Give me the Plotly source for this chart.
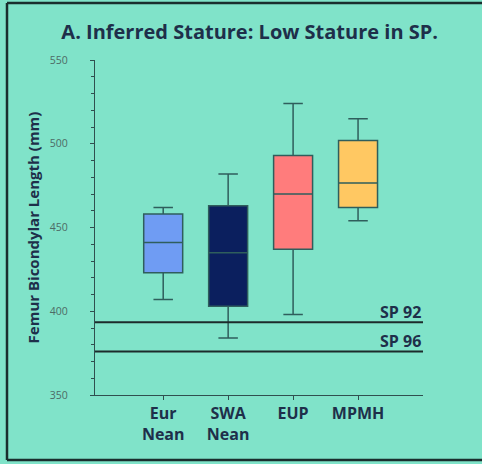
import plotly.graph_objects as go

categories = ["Eur<br>Nean", "SWA<br>Nean", "EUP", "MPMH"]
lower = [407, 384, 398, 454]
q1 = [423, 403, 437, 462]
median = [441, 435, 470, 476.5]
q3 = [458, 463, 493, 502]
upper = [462, 482, 524, 515]
colors = ["#6f9cf3", "#0b1f5e", "#ff7c7c", "#ffc862"]

ref_labels = ["SP 92", "SP 96"]
ref_values = [393.5, 376]

BG = "#80e3c9"
DARK = "#1e2f4a"

fig = go.Figure()
for i, c in enumerate(categories):
    fig.add_trace(go.Box(
        x=[c], q1=[q1[i]], median=[median[i]], q3=[q3[i]],
        lowerfence=[lower[i]], upperfence=[upper[i]],
        fillcolor=colors[i], line=dict(color="#2f5e5c", width=1.5),
        width=0.6, whiskerwidth=0.5, showlegend=False, hoverinfo="skip",
    ))

for lab, v in zip(ref_labels, ref_values):
    fig.add_shape(type="line", xref="paper", x0=0, x1=1, yref="y", y0=v, y1=v,
                  line=dict(color="#1c2b2b", width=2))
    fig.add_annotation(xref="paper", x=1.0, yref="y", y=v, text="<b>" + lab + "</b>",
                       showarrow=False, xanchor="right", yanchor="bottom",
                       font=dict(family="Open Sans", size=16, color=DARK), yshift=-3)

# outer frame (top, left, bottom edges; right edge lies outside the picture)
fx0, fx1 = (7 - 95) / 328, (482 - 95) / 328
fy0, fy1 = (395 - 460) / 335, (395 - 3) / 335
for (a, b, c, d) in [(fx0, fy1, fx1, fy1), (fx0, fy0, fx0, fy1), (fx0, fy0, fx1, fy0)]:
    fig.add_shape(type="line", xref="paper", yref="paper", x0=a, y0=b, x1=c, y1=d,
                  line=dict(color="#1a2e2e", width=2.5))

fig.update_layout(
    width=482, height=464,
    margin=dict(l=95, r=59, t=60, b=69),
    paper_bgcolor=BG, plot_bgcolor=BG,
    title=dict(text="<b>A. Inferred Stature: Low Stature in SP.</b>",
               x=0.518, xanchor="center", y=1 - 32 / 464, yanchor="middle",
               font=dict(family="Open Sans", size=20, color=DARK)),
    xaxis=dict(type="category", categoryorder="array", categoryarray=categories,
               tickvals=categories, ticktext=["<b>" + c + "</b>" for c in categories],
               range=[-1.05, 4.0], showgrid=False, showline=True, linecolor="#2f4f4f",
               linewidth=1.2, ticks="outside", ticklen=4, tickcolor="#2f4f4f",
               tickfont=dict(family="Open Sans", size=16, color=DARK), zeroline=False),
    yaxis=dict(range=[350, 550], tickvals=[350, 400, 450, 500, 550], showgrid=False,
               showline=True, linecolor="#2f4f4f", linewidth=1.2, ticks="outside",
               ticklen=4, tickcolor="#2f4f4f", zeroline=False, ticklabelstandoff=20,
               minor=dict(dtick=10, ticks="outside", ticklen=3, tickcolor="#2f4f4f"),
               tickfont=dict(family="Open Sans", size=10.5, color="#4d6b66"),
               title=dict(text="<b>Femur Bicondylar Length (mm)</b>", standoff=6,
                          font=dict(family="Open Sans", size=15, color=DARK))),
)

fig.write_html("out.html", config={"displayModeBar": False},
               post_script="document.body.style.margin='0px';")
